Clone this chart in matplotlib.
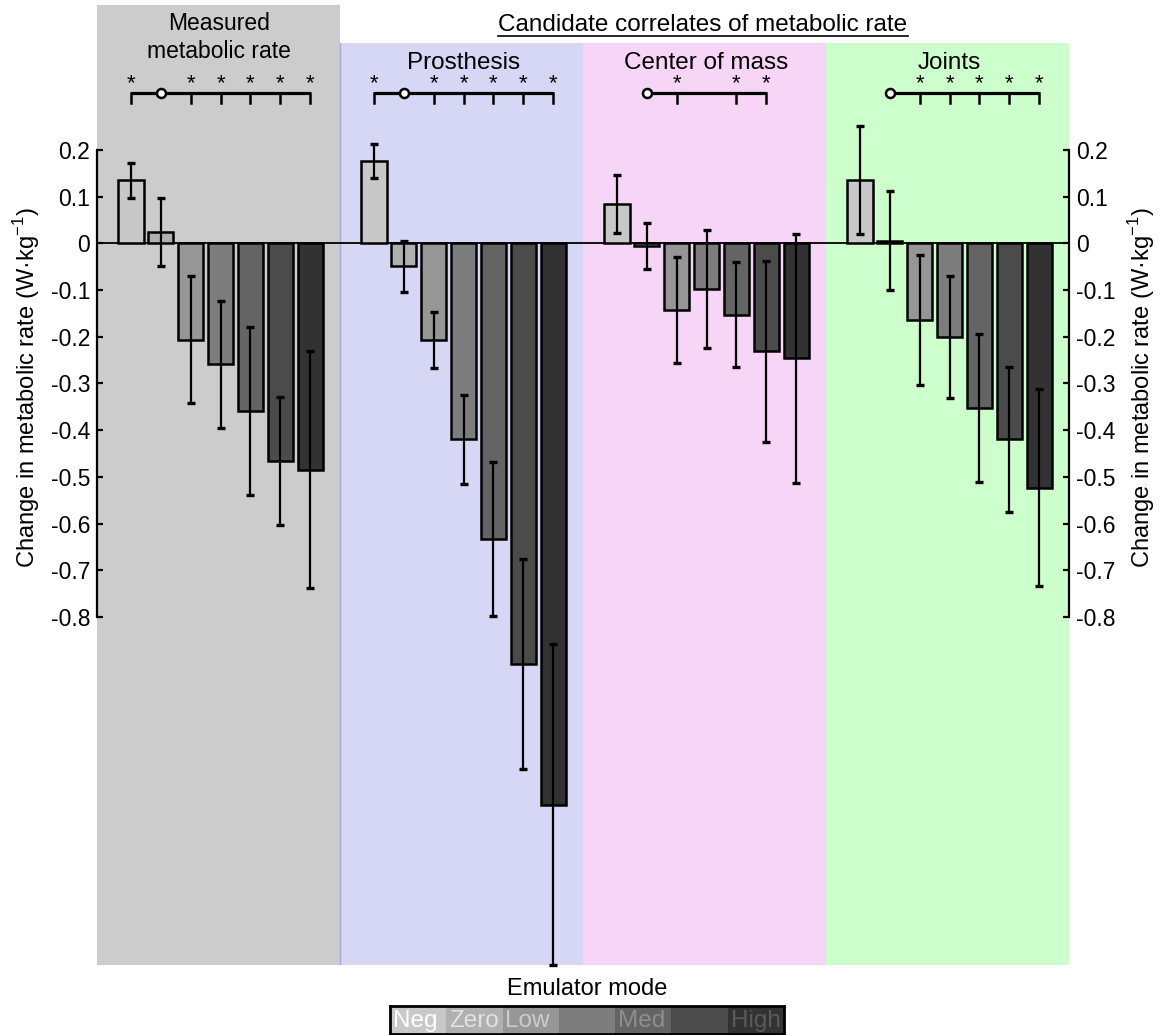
import numpy as np
import matplotlib.pyplot as plt
from matplotlib.patches import Rectangle
from matplotlib.lines import Line2D

plt.rcParams['font.family'] = ['Liberation Sans', 'DejaVu Sans']
plt.rcParams['axes.unicode_minus'] = False

# data (W/kg)
modes = ['Neg', 'Zero', 'Low', '', 'Med', '', 'High']
groups = ['Measured metabolic rate', 'Prosthesis', 'Center of mass', 'Joints']
measured = [0.135, 0.025, -0.206, -0.259, -0.359, -0.466, -0.485]
measured_err = [0.038, 0.073, 0.136, 0.136, 0.180, 0.137, 0.254]
prosthesis = [0.176, -0.049, -0.207, -0.420, -0.634, -0.901, -1.202]
prosthesis_err = [0.036, 0.055, 0.060, 0.095, 0.165, 0.224, 0.343]
com = [0.084, -0.006, -0.143, -0.098, -0.153, -0.231, -0.246]
com_err = [0.062, 0.049, 0.114, 0.127, 0.112, 0.194, 0.267]
joints = [0.135, 0.006, -0.164, -0.201, -0.353, -0.420, -0.523]
joints_err = [0.116, 0.105, 0.140, 0.130, 0.158, 0.155, 0.210]

# significance: open circle = reference mode, * = differs from reference
ref_mode = [1, 1, 1, 1]
sig_modes = [[0, 2, 3, 4, 5, 6], [0, 2, 3, 4, 5, 6], [2, 4, 5], [2, 3, 4, 5, 6]]

yticks = [0.2, 0.1, 0, -0.1, -0.2, -0.3, -0.4, -0.5, -0.6, -0.7, -0.8]
ytick_labels = ['0.2', '0.1', '0', '-0.1', '-0.2', '-0.3', '-0.4', '-0.5', '-0.6', '-0.7', '-0.8']

bar_colors = ['#c8c8c8', '#b0b0b0', '#969696', '#7d7d7d', '#646464', '#4b4b4b', '#323232']
panel_colors = ['#cccccc', '#d6d6f5', '#f7d5f7', '#ccffcc']
label_colors = ['#ffffff', '#e2e2e2', '#cccccc', '#9a9a9a', '#8e8e8e', '#666666', '#5a5a5a']

W, H = 1160, 1035
fig = plt.figure(figsize=(W / 100, H / 100), dpi=100)


def fx(x):
    return x / W


def fy(y):
    return 1 - y / H


ax = fig.add_axes([fx(97), fy(965), fx(1069) - fx(97), fy(5) - fy(965)])
GAP = 8.14
ax.set_xlim(-1.14, 3 * GAP + 7.0)
ax.set_ylim(-1.5454, 0.5103)

values = [measured, prosthesis, com, joints]
errors = [measured_err, prosthesis_err, com_err, joints_err]

for g in range(4):
    top = 0.5103 if g == 0 else 0.429
    ax.add_patch(Rectangle((g * GAP - 1.14, -1.5454), GAP, top + 1.5454,
                           facecolor=panel_colors[g], edgecolor='none', zorder=0))
ax.axvline(GAP - 1.14, ymax=(0.429 + 1.5454) / 2.0557, color='#aaaadd', lw=1, zorder=0.5)

ax.axhline(0, color='black', lw=1.3, zorder=2)

for g in range(4):
    x = g * GAP + np.arange(7)
    ax.bar(x, values[g], width=0.84, color=bar_colors, edgecolor='black', lw=1.8, zorder=3)
    ax.errorbar(x, values[g], yerr=errors[g], fmt='none', ecolor='black',
                elinewidth=1.6, capsize=2.6, capthick=2.4, zorder=4, clip_on=False)

    # significance bracket
    r = ref_mode[g]
    s = sig_modes[g]
    x0 = g * GAP + min(s + [r])
    x1 = g * GAP + max(s)
    ax.plot([x0, x1], [0.321, 0.321], color='black', lw=2.3, zorder=5, solid_capstyle='butt')
    for i in s:
        ax.plot([g * GAP + i] * 2, [0.321, 0.300], color='black', lw=1.8, zorder=5)
        ax.text(g * GAP + i, 0.330, '*', ha='center', va='baseline', fontsize=16, zorder=6)
    ax.plot(g * GAP + r, 0.321, 'o', ms=6.5, mfc='white', mec='black', mew=1.8, zorder=6)

for side in ['top', 'bottom']:
    ax.spines[side].set_visible(False)
for side in ['left', 'right']:
    ax.spines[side].set_bounds(-0.8, 0.2)
    ax.spines[side].set_linewidth(1.6)
ax.set_xticks([])
ax.set_yticks(yticks)
ax.set_yticklabels(ytick_labels)
ax.tick_params(axis='y', direction='in', length=4, width=1.6, labelsize=16.5, pad=5,
               left=True, right=True, labelleft=True, labelright=True)
ax.patch.set_visible(False)

ylab = 'Change in metabolic rate (W\u00b7kg$^{\\mathregular{-1}}$)'
fig.text(fx(27), fy(388), ylab, rotation=90, ha='center', va='center', fontsize=17)
fig.text(fx(1142), fy(388), ylab, rotation=90, ha='center', va='center', fontsize=17)

# headers
fig.text(fx(219), fy(30), 'Measured', ha='center', va='baseline', fontsize=16.5)
fig.text(fx(219), fy(58), 'metabolic rate', ha='center', va='baseline', fontsize=16.5)
cand = fig.text(fx(703), fy(31), 'Candidate correlates of metabolic rate',
                ha='center', va='baseline', fontsize=17.5)
for g, name in zip([1, 2, 3], groups[1:]):
    xc = 97 + (g * GAP + 3 + 1.14) * (972 / (3 * GAP + 8.14))
    fig.text(fx(xc), fy(69), name, ha='center', va='baseline', fontsize=17.5)

fig.canvas.draw()
bb = cand.get_window_extent()
fig.add_artist(Line2D([bb.x0 / W, bb.x1 / W], [fy(36), fy(36)], color='black', lw=1.2))

# emulator mode legend
fig.text(fx(587), fy(995), 'Emulator mode', ha='center', va='baseline', fontsize=17)
lax = fig.add_axes([fx(390), fy(1034), fx(784) - fx(390), fy(1006) - fy(1034)])
lax.set_xlim(0, 7)
lax.set_ylim(0, 1)
for i in range(7):
    lax.add_patch(Rectangle((i, 0), 1, 1, facecolor=bar_colors[i], edgecolor='none'))
    if modes[i]:
        lax.text(i + 0.05, 0.25, modes[i], ha='left', va='baseline', fontsize=17.5,
                 color=label_colors[i])
lax.set_xticks([])
lax.set_yticks([])
for sp in lax.spines.values():
    sp.set_linewidth(2)

fig.savefig('out.png', dpi=100)
